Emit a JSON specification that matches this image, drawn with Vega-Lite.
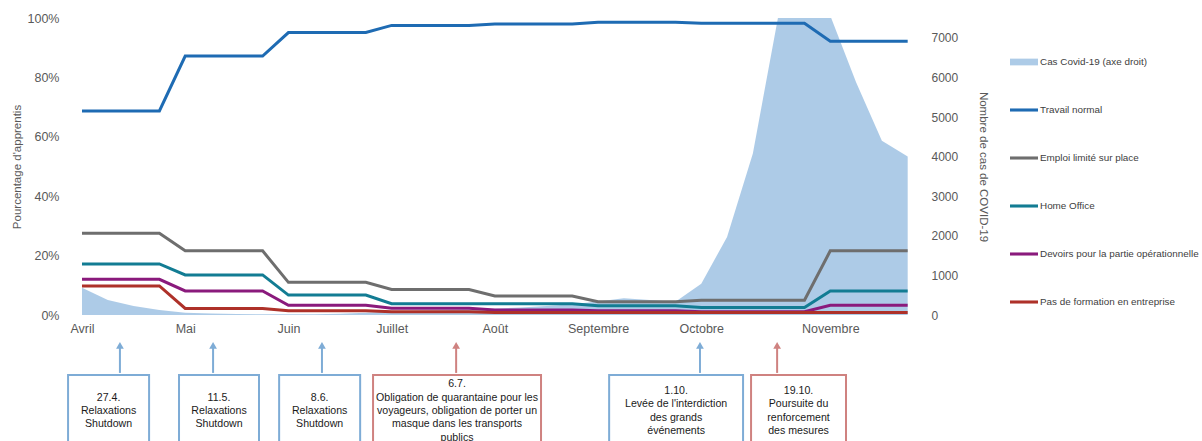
{
  "$schema": "https://vega.github.io/schema/vega-lite/v6.json",
  "autosize": {"type": "none"},
  "width": 848,
  "height": 297,
  "padding": {"left": 70, "top": 18, "right": 284, "bottom": 126},
  "background": "white",
  "config": {
    "view": {"stroke": null},
    "font": "Liberation Sans",
    "axis": {"labelFont": "Liberation Sans", "titleFont": "Liberation Sans", "titleFontWeight": "normal", "labelColor": "#595959", "titleColor": "#595959"}
  },
  "datasets": {
    "sondage": [
      {"semaine": 0, "cas": 690, "Travail normal": 68.7, "Emploi limité sur place": 27.5, "Home Office": 17.2, "Devoirs pour la partie opérationnelle": 12.0, "Pas de formation en entreprise": 9.8},
      {"semaine": 1, "cas": 378, "Travail normal": 68.7, "Emploi limité sur place": 27.5, "Home Office": 17.2, "Devoirs pour la partie opérationnelle": 12.0, "Pas de formation en entreprise": 9.8},
      {"semaine": 2, "cas": 227, "Travail normal": 68.7, "Emploi limité sur place": 27.5, "Home Office": 17.2, "Devoirs pour la partie opérationnelle": 12.0, "Pas de formation en entreprise": 9.8},
      {"semaine": 3, "cas": 126, "Travail normal": 68.7, "Emploi limité sur place": 27.5, "Home Office": 17.2, "Devoirs pour la partie opérationnelle": 12.0, "Pas de formation en entreprise": 9.8},
      {"semaine": 4, "cas": 58, "Travail normal": 87.2, "Emploi limité sur place": 21.6, "Home Office": 13.5, "Devoirs pour la partie opérationnelle": 8.1, "Pas de formation en entreprise": 2.2},
      {"semaine": 5, "cas": 40, "Travail normal": 87.2, "Emploi limité sur place": 21.6, "Home Office": 13.5, "Devoirs pour la partie opérationnelle": 8.1, "Pas de formation en entreprise": 2.2},
      {"semaine": 6, "cas": 25, "Travail normal": 87.2, "Emploi limité sur place": 21.6, "Home Office": 13.5, "Devoirs pour la partie opérationnelle": 8.1, "Pas de formation en entreprise": 2.2},
      {"semaine": 7, "cas": 20, "Travail normal": 87.2, "Emploi limité sur place": 21.6, "Home Office": 13.5, "Devoirs pour la partie opérationnelle": 8.1, "Pas de formation en entreprise": 2.2},
      {"semaine": 8, "cas": 20, "Travail normal": 95.1, "Emploi limité sur place": 11.0, "Home Office": 6.7, "Devoirs pour la partie opérationnelle": 3.3, "Pas de formation en entreprise": 1.4},
      {"semaine": 9, "cas": 20, "Travail normal": 95.1, "Emploi limité sur place": 11.0, "Home Office": 6.7, "Devoirs pour la partie opérationnelle": 3.3, "Pas de formation en entreprise": 1.4},
      {"semaine": 10, "cas": 30, "Travail normal": 95.1, "Emploi limité sur place": 11.0, "Home Office": 6.7, "Devoirs pour la partie opérationnelle": 3.3, "Pas de formation en entreprise": 1.4},
      {"semaine": 11, "cas": 55, "Travail normal": 95.1, "Emploi limité sur place": 11.0, "Home Office": 6.7, "Devoirs pour la partie opérationnelle": 3.3, "Pas de formation en entreprise": 1.4},
      {"semaine": 12, "cas": 90, "Travail normal": 97.5, "Emploi limité sur place": 8.6, "Home Office": 3.8, "Devoirs pour la partie opérationnelle": 2.3, "Pas de formation en entreprise": 1.1},
      {"semaine": 13, "cas": 110, "Travail normal": 97.5, "Emploi limité sur place": 8.6, "Home Office": 3.8, "Devoirs pour la partie opérationnelle": 2.3, "Pas de formation en entreprise": 1.1},
      {"semaine": 14, "cas": 120, "Travail normal": 97.5, "Emploi limité sur place": 8.6, "Home Office": 3.8, "Devoirs pour la partie opérationnelle": 2.3, "Pas de formation en entreprise": 1.1},
      {"semaine": 15, "cas": 140, "Travail normal": 97.5, "Emploi limité sur place": 8.6, "Home Office": 3.8, "Devoirs pour la partie opérationnelle": 2.3, "Pas de formation en entreprise": 1.1},
      {"semaine": 16, "cas": 160, "Travail normal": 98.0, "Emploi limité sur place": 6.4, "Home Office": 3.8, "Devoirs pour la partie opérationnelle": 1.7, "Pas de formation en entreprise": 0.8},
      {"semaine": 17, "cas": 190, "Travail normal": 98.0, "Emploi limité sur place": 6.4, "Home Office": 3.8, "Devoirs pour la partie opérationnelle": 1.7, "Pas de formation en entreprise": 0.8},
      {"semaine": 18, "cas": 230, "Travail normal": 98.0, "Emploi limité sur place": 6.4, "Home Office": 3.8, "Devoirs pour la partie opérationnelle": 1.7, "Pas de formation en entreprise": 0.8},
      {"semaine": 19, "cas": 270, "Travail normal": 98.0, "Emploi limité sur place": 6.4, "Home Office": 3.8, "Devoirs pour la partie opérationnelle": 1.7, "Pas de formation en entreprise": 0.8},
      {"semaine": 20, "cas": 340, "Travail normal": 98.6, "Emploi limité sur place": 4.5, "Home Office": 3.1, "Devoirs pour la partie opérationnelle": 1.4, "Pas de formation en entreprise": 0.8},
      {"semaine": 21, "cas": 420, "Travail normal": 98.6, "Emploi limité sur place": 4.5, "Home Office": 3.1, "Devoirs pour la partie opérationnelle": 1.4, "Pas de formation en entreprise": 0.8},
      {"semaine": 22, "cas": 380, "Travail normal": 98.6, "Emploi limité sur place": 4.5, "Home Office": 3.1, "Devoirs pour la partie opérationnelle": 1.4, "Pas de formation en entreprise": 0.8},
      {"semaine": 23, "cas": 335, "Travail normal": 98.6, "Emploi limité sur place": 4.5, "Home Office": 3.1, "Devoirs pour la partie opérationnelle": 1.4, "Pas de formation en entreprise": 0.8},
      {"semaine": 24, "cas": 790, "Travail normal": 98.2, "Emploi limité sur place": 5.0, "Home Office": 2.5, "Devoirs pour la partie opérationnelle": 1.1, "Pas de formation en entreprise": 0.8},
      {"semaine": 25, "cas": 1970, "Travail normal": 98.2, "Emploi limité sur place": 5.0, "Home Office": 2.5, "Devoirs pour la partie opérationnelle": 1.1, "Pas de formation en entreprise": 0.8},
      {"semaine": 26, "cas": 4080, "Travail normal": 98.2, "Emploi limité sur place": 5.0, "Home Office": 2.5, "Devoirs pour la partie opérationnelle": 1.1, "Pas de formation en entreprise": 0.8},
      {"semaine": 27, "cas": 7600, "Travail normal": 98.2, "Emploi limité sur place": 5.0, "Home Office": 2.5, "Devoirs pour la partie opérationnelle": 1.1, "Pas de formation en entreprise": 0.8},
      {"semaine": 28, "cas": 8700, "Travail normal": 98.2, "Emploi limité sur place": 5.0, "Home Office": 2.5, "Devoirs pour la partie opérationnelle": 1.1, "Pas de formation en entreprise": 0.8},
      {"semaine": 29, "cas": 7560, "Travail normal": 92.2, "Emploi limité sur place": 21.6, "Home Office": 8.1, "Devoirs pour la partie opérationnelle": 3.3, "Pas de formation en entreprise": 0.8},
      {"semaine": 30, "cas": 5880, "Travail normal": 92.2, "Emploi limité sur place": 21.6, "Home Office": 8.1, "Devoirs pour la partie opérationnelle": 3.3, "Pas de formation en entreprise": 0.8},
      {"semaine": 31, "cas": 4400, "Travail normal": 92.2, "Emploi limité sur place": 21.6, "Home Office": 8.1, "Devoirs pour la partie opérationnelle": 3.3, "Pas de formation en entreprise": 0.8},
      {"semaine": 32, "cas": 4000, "Travail normal": 92.2, "Emploi limité sur place": 21.6, "Home Office": 8.1, "Devoirs pour la partie opérationnelle": 3.3, "Pas de formation en entreprise": 0.8}
    ],
    "evenements": [
      {"evenement": "27.4.\nRelaxations\nShutdown", "semaine": 1.47, "debut": -0.54, "fin": 2.60, "genre": "assouplissement"},
      {"evenement": "11.5.\nRelaxations\nShutdown", "semaine": 5.08, "debut": 3.76, "fin": 6.86, "genre": "assouplissement"},
      {"evenement": "8.6.\nRelaxations\nShutdown", "semaine": 9.30, "debut": 7.64, "fin": 10.78, "genre": "assouplissement"},
      {"evenement": "6.7.\nObligation de quarantaine pour les\nvoyageurs, obligation de porter un\nmasque dans les transports\npublics", "semaine": 14.50, "debut": 11.28, "fin": 17.79, "genre": "renforcement"},
      {"evenement": "1.10.\nLevée de l'interdiction\ndes grands\névénements", "semaine": 23.95, "debut": 20.43, "fin": 25.62, "genre": "assouplissement"},
      {"evenement": "19.10.\nPoursuite du\nrenforcement\ndes mesures", "semaine": 26.94, "debut": 25.93, "fin": 29.61, "genre": "renforcement"}
    ]
  },
  "resolve": {"scale": {"y": "independent"}},
  "layer": [
    {
      "data": {"name": "sondage"},
      "mark": {"type": "area", "opacity": 0.72, "clip": true},
      "encoding": {
        "x": {"field": "semaine", "type": "quantitative",
          "scale": {"domain": [-0.465, 32.4], "nice": false, "zero": false},
          "axis": {"values": [0, 4, 8, 12, 16, 20, 24, 29],
            "labelExpr": "datum.value == 0 ? 'Avril' : datum.value == 4 ? 'Mai' : datum.value == 8 ? 'Juin' : datum.value == 12 ? 'Juillet' : datum.value == 16 ? 'Août' : datum.value == 20 ? 'Septembre' : datum.value == 24 ? 'Octobre' : 'Novembre'",
            "grid": false, "ticks": false, "domain": false, "labelFontSize": 12.5, "labelPadding": 7, "title": null, "labelOverlap": false, "labelFlush": false}},
        "y": {"field": "cas", "type": "quantitative",
          "scale": {"domain": [0, 7500], "nice": false},
          "axis": {"orient": "right", "values": [0, 1000, 2000, 3000, 4000, 5000, 6000, 7000], "format": "d", "grid": false, "ticks": false, "domain": false, "labelFontSize": 12, "labelPadding": 13, "title": "Nombre de cas de COVID-19", "titleFontSize": 11.5, "titlePadding": 20}},
        "color": {"datum": "Cas Covid-19 (axe droit)", "type": "nominal",
          "scale": {"domain": ["Cas Covid-19 (axe droit)", "Travail normal", "Emploi limité sur place", "Home Office", "Devoirs pour la partie opérationnelle", "Pas de formation en entreprise"],
            "range": ["#8db7de", "#1e6bb3", "#6e6e6e", "#127c93", "#8a1a7c", "#ae3129"]},
          "legend": {"orient": "none", "legendX": 940, "legendY": 30, "title": null, "direction": "vertical", "symbolType": "M-1,-0.11H1V0.11H-1Z", "symbolSize": 784, "symbolStrokeWidth": 0, "labelFontSize": 9.9, "labelColor": "#404040", "labelFont": "Liberation Sans", "labelOffset": 2, "rowPadding": 29, "labelLimit": 300,
            "encode": {"symbols": {"update": {
              "shape": {"signal": "datum.value === 'Cas Covid-19 (axe droit)' ? 'M-1,-0.24H1V0.24H-1Z' : 'M-1,-0.11H1V0.11H-1Z'"},
              "fill": {"scale": "color", "field": "value"},
              "strokeWidth": {"value": 0},
              "opacity": {"signal": "datum.value === 'Cas Covid-19 (axe droit)' ? 0.72 : 1"}}}}}}
      }
    },
    {
      "data": {"name": "sondage"},
      "transform": [{"fold": ["Travail normal", "Emploi limité sur place", "Home Office", "Devoirs pour la partie opérationnelle", "Pas de formation en entreprise"], "as": ["serie", "pct"]}],
      "mark": {"type": "line", "strokeWidth": 3},
      "encoding": {
        "x": {"field": "semaine", "type": "quantitative", "scale": {"domain": [-0.465, 32.4], "nice": false, "zero": false}},
        "y": {"field": "pct", "type": "quantitative",
          "scale": {"domain": [0, 100], "nice": false},
          "axis": {"orient": "left", "values": [0, 2.5, 5, 7.5, 10, 12.5, 15, 17.5, 20, 22.5, 25, 27.5, 30, 32.5, 35, 37.5, 40, 42.5, 45, 47.5, 50, 52.5, 55, 57.5, 60, 62.5, 65, 67.5, 70, 72.5, 75, 77.5, 80, 82.5, 85, 87.5, 90, 92.5, 95, 97.5, 100],
            "labelExpr": "datum.value % 20 === 0 ? datum.value + '%' : ''",
            "labelOverlap": false,
            "gridColor": {"condition": {"test": "datum.value % 20 === 0", "value": "#d2d2d2"}, "value": "#e8e8e8"},
            "ticks": false, "domain": false, "labelFontSize": 12.5, "labelPadding": 11, "title": "Pourcentage d'apprentis", "titleFontSize": 11.5, "titlePadding": 5}},
        "color": {"field": "serie", "type": "nominal",
          "scale": {"domain": ["Cas Covid-19 (axe droit)", "Travail normal", "Emploi limité sur place", "Home Office", "Devoirs pour la partie opérationnelle", "Pas de formation en entreprise"],
            "range": ["#8db7de", "#1e6bb3", "#6e6e6e", "#127c93", "#8a1a7c", "#ae3129"]},
          "legend": {"orient": "none", "legendX": 940, "legendY": 30, "title": null, "direction": "vertical", "symbolType": "M-1,-0.11H1V0.11H-1Z", "symbolSize": 784, "symbolStrokeWidth": 0, "labelFontSize": 9.9, "labelColor": "#404040", "labelFont": "Liberation Sans", "labelOffset": 2, "rowPadding": 29, "labelLimit": 300,
            "encode": {"symbols": {"update": {
              "shape": {"signal": "datum.value === 'Cas Covid-19 (axe droit)' ? 'M-1,-0.24H1V0.24H-1Z' : 'M-1,-0.11H1V0.11H-1Z'"},
              "fill": {"scale": "color", "field": "value"},
              "strokeWidth": {"value": 0},
              "opacity": {"signal": "datum.value === 'Cas Covid-19 (axe droit)' ? 0.72 : 1"}}}}}}
      }
    },
    {
      "data": {"name": "evenements"},
      "mark": {"type": "rect", "fill": "white", "strokeWidth": 2},
      "encoding": {
        "x": {"field": "debut", "type": "quantitative", "scale": {"domain": [-0.465, 32.4], "nice": false, "zero": false}},
        "x2": {"field": "fin"},
        "y": {"datum": -20.2, "type": "quantitative", "scale": {"domain": [0, 100], "nice": false}, "axis": null},
        "y2": {"datum": -60},
        "stroke": {"field": "genre", "type": "nominal", "scale": {"domain": ["assouplissement", "renforcement"], "range": ["#7eacd6", "#cf8280"]}, "legend": null}
      }
    },
    {
      "data": {"name": "evenements"},
      "mark": {"type": "rule", "strokeWidth": 2},
      "encoding": {
        "x": {"field": "semaine", "type": "quantitative", "scale": {"domain": [-0.465, 32.4], "nice": false, "zero": false}},
        "y": {"datum": -11.0, "type": "quantitative", "scale": {"domain": [0, 100], "nice": false}, "axis": null},
        "y2": {"datum": -19.5},
        "stroke": {"field": "genre", "type": "nominal", "scale": {"domain": ["assouplissement", "renforcement"], "range": ["#7eacd6", "#cf8280"]}, "legend": null}
      }
    },
    {
      "data": {"name": "evenements"},
      "mark": {"type": "point", "shape": "triangle-up", "filled": true, "size": 60, "opacity": 1},
      "encoding": {
        "x": {"field": "semaine", "type": "quantitative", "scale": {"domain": [-0.465, 32.4], "nice": false, "zero": false}},
        "y": {"datum": -10.2, "type": "quantitative", "scale": {"domain": [0, 100], "nice": false}, "axis": null},
        "fill": {"field": "genre", "type": "nominal", "scale": {"domain": ["assouplissement", "renforcement"], "range": ["#7eacd6", "#cf8280"]}, "legend": null}
      }
    },
    {
      "data": {"name": "evenements"},
      "transform": [
        {"calculate": "(datum.debut + datum.fin) / 2", "as": "centre"},
        {"calculate": "-32.3 + (length(split(datum.evenement, '\\n')) - 1) * 2.24", "as": "hauteur"}
      ],
      "mark": {"type": "text", "align": "center", "baseline": "middle", "lineBreak": "\n", "fontSize": 10.6, "lineHeight": 13.3, "color": "#1a1a1a", "font": "Liberation Sans"},
      "encoding": {
        "x": {"field": "centre", "type": "quantitative", "scale": {"domain": [-0.465, 32.4], "nice": false, "zero": false}},
        "y": {"field": "hauteur", "type": "quantitative", "scale": {"domain": [0, 100], "nice": false}, "axis": null},
        "text": {"field": "evenement"}
      }
    }
  ]
}
